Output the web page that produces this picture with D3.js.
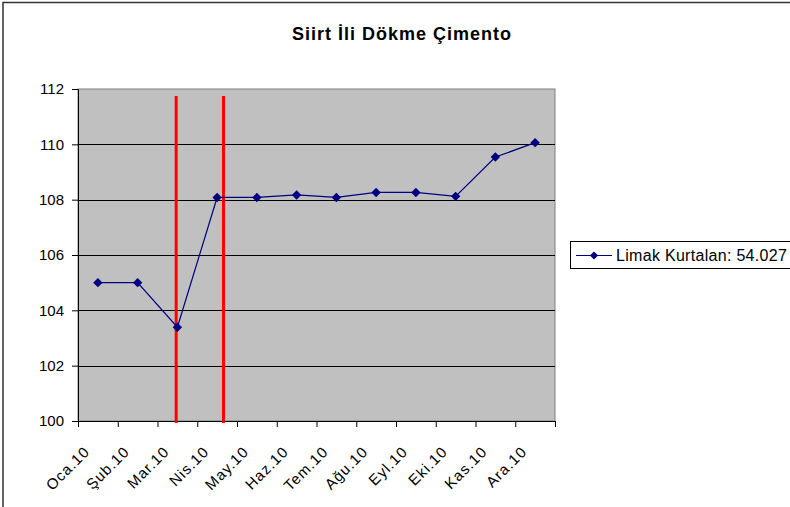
<!DOCTYPE html>
<html>
<head>
<meta charset="utf-8">
<script src="https://cdn.jsdelivr.net/npm/d3@7"></script>
<style>
  body { margin: 0; background: #fff; }
  text { font-family: "Liberation Sans", Arial, sans-serif; fill: #000; }
</style>
</head>
<body>
<svg id="chart" width="790" height="507"></svg>
<script>
// data
let months = ["Oca.10", "Şub.10", "Mar.10", "Nis.10", "May.10", "Haz.10",
              "Tem.10", "Ağu.10", "Eyl.10", "Eki.10", "Kas.10", "Ara.10"];
let values = [105.0, 105.0, 103.39, 108.08, 108.08, 108.17,
              108.08, 108.26, 108.26, 108.12, 109.54, 110.06];
let yTicks = [100, 102, 104, 106, 108, 110, 112];
// red marker lines, position in category units (0 = left edge)
let markerPos = [2.47, 3.66];
let seriesName = "Limak Kurtalan: 54.027";
let title = "Siirt İli Dökme Çimento";

let svg = d3.select("#chart");
let pLeft = 78, pRight = 555, pTop = 89, pBottom = 421;

// outer frame
svg.append("rect")
  .attr("x", 3).attr("y", 2.5)
  .attr("width", 800).attr("height", 520)
  .attr("fill", "#fff").attr("stroke", "#333").attr("stroke-width", 1.5);

let x = d3.scaleBand().domain(months).range([pLeft, pRight]);
let xLin = d3.scaleLinear().domain([0, months.length]).range([pLeft, pRight]);
let y = d3.scaleLinear().domain([100, 112]).range([pBottom, pTop]);

// plot area
svg.append("rect")
  .attr("x", pLeft).attr("y", pTop)
  .attr("width", pRight - pLeft).attr("height", pBottom - pTop)
  .attr("fill", "#c0c0c0").attr("stroke", "#808080").attr("stroke-width", 1);

// gridlines
svg.append("g").selectAll("line")
  .data(yTicks.filter(t => t > 100 && t < 112))
  .join("line")
  .attr("x1", pLeft).attr("x2", pRight)
  .attr("y1", d => Math.round(y(d)) + 0.5).attr("y2", d => Math.round(y(d)) + 0.5)
  .attr("stroke", "#000").attr("stroke-width", 1);

// y axis
let yAxis = svg.append("g")
  .attr("transform", `translate(${pLeft},0)`)
  .call(d3.axisLeft(y).tickValues(yTicks).tickSize(6).tickPadding(8).tickFormat(d3.format("d")));
yAxis.selectAll("text").style("font-size", "15px").style("font-family", "Liberation Sans, Arial, sans-serif");
yAxis.select(".domain").attr("stroke", "#000");

// x axis
let xAxis = svg.append("g")
  .attr("transform", `translate(0,${pBottom})`)
  .call(d3.axisBottom(xLin).tickValues(d3.range(0, months.length + 1)).tickSize(6).tickFormat(""));
xAxis.select(".domain").attr("stroke", "#000");

svg.append("g").selectAll("text")
  .data(months)
  .join("text")
  .attr("transform", d => `translate(${x(d) + x.bandwidth() / 2 - 11},${pBottom + 28}) rotate(-45)`)
  .attr("text-anchor", "end")
  .attr("dy", "0.35em")
  .style("font-size", "15px")
  .style("letter-spacing", "1px")
  .text(d => d);

// red marker lines
svg.append("g").selectAll("line")
  .data(markerPos)
  .join("line")
  .attr("x1", d => xLin(d)).attr("x2", d => xLin(d))
  .attr("y1", 96).attr("y2", pBottom + 2)
  .attr("stroke", "#ff0000").attr("stroke-width", 3);

// series line
let line = d3.line()
  .x((d, i) => x(months[i]) + x.bandwidth() / 2)
  .y(d => y(d));

svg.append("path")
  .datum(values)
  .attr("d", line)
  .attr("fill", "none")
  .attr("stroke", "#000080")
  .attr("stroke-width", 1.2);

let diamond = d3.symbol().type(d3.symbolSquare).size(44);
svg.append("g").selectAll("path")
  .data(values)
  .join("path")
  .attr("d", diamond)
  .attr("transform", (d, i) => `translate(${x(months[i]) + x.bandwidth() / 2},${y(d)}) rotate(45)`)
  .attr("fill", "#000080");

// title
svg.append("text")
  .attr("x", 402).attr("y", 40)
  .attr("text-anchor", "middle")
  .style("font-size", "18px")
  .style("font-weight", "bold")
  .style("letter-spacing", "1px")
  .text(title);

// legend
let lg = svg.append("g").attr("transform", "translate(570,241)");
lg.append("rect")
  .attr("x", 0.5).attr("y", 0.5)
  .attr("width", 240).attr("height", 27)
  .attr("fill", "#fff").attr("stroke", "#000").attr("stroke-width", 1);
lg.append("line")
  .attr("x1", 6).attr("x2", 42).attr("y1", 14.5).attr("y2", 14.5)
  .attr("stroke", "#000080").attr("stroke-width", 1.2);
lg.append("path")
  .attr("d", d3.symbol().type(d3.symbolSquare).size(34))
  .attr("transform", "translate(24,14.5) rotate(45)")
  .attr("fill", "#000080");
lg.append("text")
  .attr("x", 46).attr("y", 20)
  .style("font-size", "16px")
  .style("letter-spacing", "0.3px")
  .text(seriesName);
</script>
</body>
</html>
